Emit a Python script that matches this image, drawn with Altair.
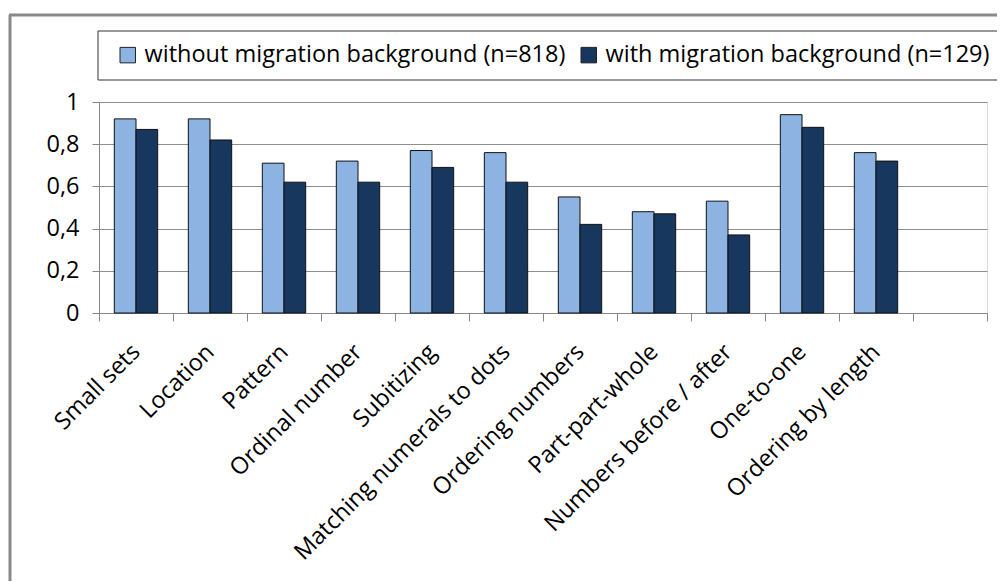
import altair as alt
import pandas as pd

categories = ["Small sets", "Location", "Pattern", "Ordinal number", "Subitizing",
              "Matching numerals to dots", "Ordering numbers", "Part-part-whole",
              "Numbers before / after", "One-to-one", "Ordering by length"]
without_mig = [0.92, 0.92, 0.71, 0.72, 0.77, 0.76, 0.55, 0.48, 0.53, 0.94, 0.76]
with_mig = [0.87, 0.82, 0.62, 0.62, 0.69, 0.62, 0.42, 0.47, 0.37, 0.88, 0.72]
groups = ["without migration background (n=818)", "with migration background (n=129)"]
colors = ["#8DB3E2", "#17375E"]
y_ticks = [0, 0.2, 0.4, 0.6, 0.8, 1.0]

rows = []
for c, a, b in zip(categories, without_mig, with_mig):
    rows.append({"category": c, "group": groups[0], "value": a})
    rows.append({"category": c, "group": groups[1], "value": b})
df = pd.DataFrame(rows)

FONT = "Open Sans"
FS = 23.5
W, H = 888, 211

domain = categories + [" "]

bars = alt.Chart(df).mark_bar(stroke="#111111", strokeWidth=1).encode(
    x=alt.X("category:N", sort=domain,
            scale=alt.Scale(domain=domain, paddingInner=0, paddingOuter=0),
            axis=alt.Axis(title=None, labelAngle=-45, labelAlign="right", labelBaseline="middle",
                          labelPadding=27, tickSize=8, tickBand="extent", tickColor="#868686",
                          domainColor="#868686", labelFont=FONT, labelFontSize=FS,
                          labelColor="black", labelLimit=0, grid=False)),
    xOffset=alt.XOffset("group:N", sort=groups,
                        scale=alt.Scale(domain=groups, paddingInner=0, paddingOuter=0.707)),
    y=alt.Y("value:Q", scale=alt.Scale(domain=[0, 1], nice=False),
            axis=alt.Axis(title=None, values=y_ticks, tickSize=7, tickColor="#868686",
                          domainColor="#868686", gridColor="#8f8f8f", grid=True,
                          labelFont=FONT, labelFontSize=FS, labelColor="black", labelPadding=13,
                          labelExpr="replace(format(datum.value, '.1~f'), '.', ',')")),
    color=alt.Color("group:N", sort=groups,
                    scale=alt.Scale(domain=groups, range=colors),
                    legend=alt.Legend(title=None, orient="none", legendX=17, legendY=-59,
                                      direction="horizontal", symbolType="square",
                                      symbolSize=240, symbolStrokeColor="#222222",
                                      symbolStrokeWidth=1, labelFont=FONT, labelFontSize=FS,
                                      labelColor="black", labelLimit=0, columnPadding=11,
                                      labelOffset=5, padding=0))
)

deco = pd.DataFrame({"k": [0]})
legend_box = alt.Chart(deco).mark_rect(fill="white", stroke="#333333", strokeWidth=1).encode(
    x=alt.value(-1), x2=alt.value(904), y=alt.value(-71), y2=alt.value(-22))
border_left = alt.Chart(deco).mark_rule(color="#898989", strokeWidth=3).encode(
    x=alt.value(-89), y=alt.value(-87), y2=alt.value(H + 300))
border_top = alt.Chart(deco).mark_rule(color="#898989", strokeWidth=3).encode(
    x=alt.value(-90), x2=alt.value(W + 40), y=alt.value(-87))

chart = alt.layer(border_left, border_top, legend_box, bars).properties(
    width=W, height=H,
    padding={"left": 91, "top": 94, "right": 10, "bottom": 268},
    autosize=alt.AutoSizeParams(type="none"),
).configure_view(stroke="#555555", strokeWidth=1).configure(background="white")

chart.save("out.html", embed_options={"renderer": "svg", "actions": False})
